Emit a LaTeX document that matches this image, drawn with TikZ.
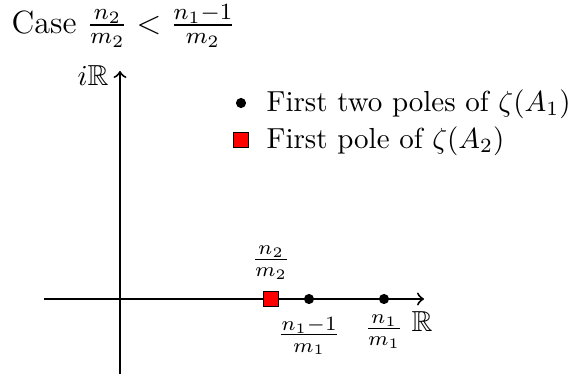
\documentclass[tikz,border=0pt]{standalone}
\usepackage{amssymb}
\begin{document}
\begin{tikzpicture}[x=0.345pt,y=-0.345pt,
  axis/.style={line width=0.7pt,->},
  pole1/.style={circle,fill=black,inner sep=0pt,minimum size=3.5pt},
  pole2/.style={rectangle,draw=black,fill=red,line width=0.3pt,inner sep=0pt,minimum size=5.4pt},
  lbl/.style={inner sep=0pt}]
\useasboundingbox (0,0) rectangle (569,374);
% title
\node[lbl,anchor=base west,font=\fontsize{11.1}{13.5}\selectfont] (title) at (11,33) {Case $\frac{n_2}{m_2}<\frac{n_1-1}{m_2}$};
% axes
\coordinate (xl) at (44,299);
\coordinate (xr) at (424,299);
\coordinate (yb) at (120,374);
\coordinate (yt) at (120,71);
\draw[axis] (xl) -- (xr);
\draw[axis] (yb) -- (yt);
\node[lbl] (iR) at (93,76) {$i\mathbb{R}$};
\node[lbl] (R) at (422,322) {$\mathbb{R}$};
% poles
\node[pole2] (p2) at (271,299) {};
\node[pole1] (a1) at (309,299) {};
\node[pole1] (a2) at (384,299) {};
\node[lbl] (lp2) at (271,263) {$\frac{n_2}{m_2}$};
\node[lbl] (la1) at (309,336) {$\frac{n_1-1}{m_1}$};
\node[lbl] (la2) at (384,332) {$\frac{n_1}{m_1}$};
% legend
\node[pole1] (leg1) at (241,103) {};
\node[pole2] (leg2) at (241,140) {};
\node[lbl,anchor=base west] (legt1) at (266,111) {First two poles of $\zeta(A_1)$};
\node[lbl,anchor=base west] (legt2) at (266,148) {First pole of $\zeta(A_2)$};
\end{tikzpicture}
\end{document}
